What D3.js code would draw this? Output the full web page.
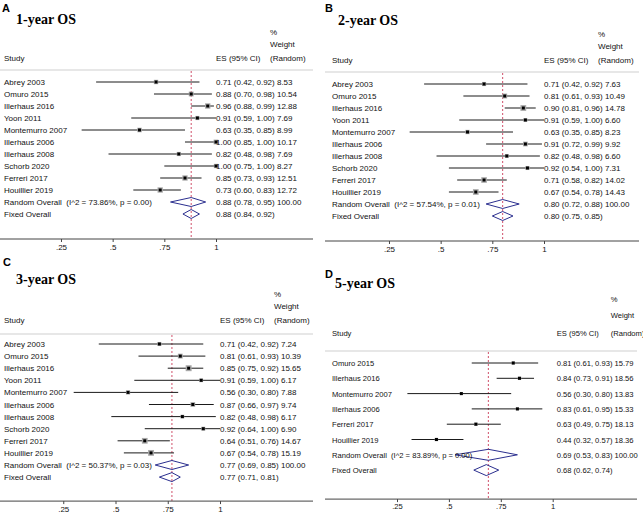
<!DOCTYPE html>
<html>
<head>
<meta charset="utf-8">
<script src="https://cdn.jsdelivr.net/npm/d3@7"></script>
<style>
  body { margin: 0; background: #fff; }
  svg text { font-family: "Liberation Sans", Arial, sans-serif; white-space: pre; }
</style>
</head>
<body>
<div id="chart"></div>
<script>
// ---- data ----
var studies1 = ["Abrey 2003", "Omuro 2015", "Illerhaus 2016", "Yoon 2011", "Montemurro 2007", "Illerhaus 2006",
  "Illerhaus 2008", "Schorb 2020", "Ferreri 2017", "Houillier 2019"];
var es1 = [0.71, 0.88, 0.96, 0.91, 0.63, 1.00, 0.82, 1.00, 0.85, 0.73];
var lo1 = [0.42, 0.70, 0.88, 0.59, 0.35, 0.85, 0.48, 0.75, 0.73, 0.60];
var hi1 = [0.92, 0.98, 0.99, 1.00, 0.85, 1.00, 0.98, 1.00, 0.93, 0.83];
var w1 = [8.53, 10.54, 12.88, 7.69, 8.99, 10.17, 7.69, 8.27, 12.51, 12.72];
var random1 = [0.88, 0.78, 0.95];
var fixed1 = [0.88, 0.84, 0.92];
var het1 = "I^2 = 73.86%, p = 0.00";

var studies2 = studies1;
var es2 = [0.71, 0.81, 0.90, 0.91, 0.63, 0.91, 0.82, 0.92, 0.71, 0.67];
var lo2 = [0.42, 0.61, 0.81, 0.59, 0.35, 0.72, 0.48, 0.54, 0.58, 0.54];
var hi2 = [0.92, 0.93, 0.96, 1.00, 0.85, 0.99, 0.98, 1.00, 0.82, 0.78];
var w2 = [7.63, 10.49, 14.78, 6.60, 8.23, 9.92, 6.60, 7.31, 14.02, 14.43];
var random2 = [0.80, 0.72, 0.88];
var fixed2 = [0.80, 0.75, 0.85];
var het2 = "I^2 = 57.54%, p = 0.01";

var studies3 = studies1;
var es3 = [0.71, 0.81, 0.85, 0.91, 0.56, 0.87, 0.82, 0.92, 0.64, 0.67];
var lo3 = [0.42, 0.61, 0.75, 0.59, 0.30, 0.66, 0.48, 0.64, 0.51, 0.54];
var hi3 = [0.92, 0.93, 0.92, 1.00, 0.80, 0.97, 0.98, 1.00, 0.76, 0.78];
var w3 = [7.24, 10.39, 15.65, 6.17, 7.88, 9.74, 6.17, 6.90, 14.67, 15.19];
var random3 = [0.77, 0.69, 0.85];
var fixed3 = [0.77, 0.71, 0.81];
var het3 = "I^2 = 50.37%, p = 0.03";

var studies5 = ["Omuro 2015", "Illerhaus 2016", "Montemurro 2007", "Illerhaus 2006", "Ferreri 2017", "Houillier 2019"];
var es5 = [0.81, 0.84, 0.56, 0.83, 0.63, 0.44];
var lo5 = [0.61, 0.73, 0.30, 0.61, 0.49, 0.32];
var hi5 = [0.93, 0.91, 0.80, 0.95, 0.75, 0.57];
var w5 = [15.79, 18.56, 13.83, 15.33, 18.13, 18.36];
var random5 = [0.69, 0.53, 0.83];
var fixed5 = [0.68, 0.62, 0.74];
var het5 = "I^2 = 83.89%, p = 0.00";

var tickValues = [0.25, 0.5, 0.75, 1];
var tickLabels = [".25", ".5", ".75", "1"];

// ---- layout of the four panels ----
// letter/title positions are relative to the panel origin
var panels = [
  { letter: "A", title: "1-year OS", studies: studies1, es: es1, lo: lo1, hi: hi1, w: w1,
    random: random1, fixed: fixed1, het: het1,
    ox: 0, oy: 0, letterPos: [2, 12], titlePos: [16, 24],
    x0: 9.3, x1: 216, axisL: 0, axisR: 313, rowStep: 12.0, header: [35, 47, 61], sep: 70, firstRow: 82,
    axisGap: 25, font: 8, box: 1.5, esPad: 0, hh: 4.5 },
  { letter: "B", title: "2-year OS", studies: studies2, es: es2, lo: lo2, hi: hi2, w: w2,
    random: random2, fixed: fixed2, het: het2,
    ox: 328, oy: 2, letterPos: [-3, 10], titlePos: [10, 23],
    x0: 9.3, x1: 216, axisL: -3, axisR: 311, rowStep: 12.0, header: [35, 47, 61], sep: 70, firstRow: 82,
    axisGap: 25, font: 8, box: 1.5, esPad: 0, hh: 4.5 },
  { letter: "C", title: "3-year OS", studies: studies3, es: es3, lo: lo3, hi: hi3, w: w3,
    random: random3, fixed: fixed3, het: het3,
    ox: 0, oy: 262, letterPos: [3, 4], titlePos: [16, 22],
    x0: 11, x1: 220, axisL: 0, axisR: 313, rowStep: 12.1, header: [35, 47, 61], sep: 72, firstRow: 82,
    axisGap: 24, font: 8, box: 1.5, esPad: 0, hh: 4.5 },
  { letter: "D", title: "5-year OS", studies: studies5, es: es5, lo: lo5, hi: hi5, w: w5,
    random: random5, fixed: fixed5, het: het5,
    ox: 328, oy: 259, letterPos: [-3, 19], titlePos: [7, 29],
    x0: 345.1 - 328, x1: 552.7 - 328, axisL: -3, axisR: 309, rowStep: 15.3, header: [43, 59, 77], sep: 92, firstRow: 104,
    axisGap: 29, font: 7.6, box: 0.8, esPad: 4, hh: 5.5 }
];

var svgWidth = 643;
var svgHeight = 515;

var svg = d3.select("#chart")
  .append("svg")
  .attr("width", svgWidth)
  .attr("height", svgHeight);

var fmt = d3.format(".2f");

panels.forEach(function(p) {
  var g = svg.append("g")
    .attr("transform", `translate(${p.ox}, ${p.oy})`);

  var x = d3.scaleLinear().domain([0, 1]).range([p.x0, p.x1]);

  // rows: studies, then random and fixed overall
  var nStud = p.studies.length;
  var y = function(i) { return p.firstRow + i * p.rowStep; };
  var yRandom = y(nStud);
  var yFixed = y(nStud + 1);
  var axisY = yFixed + p.axisGap;

  // panel letter and title
  g.append("text")
    .attr("x", p.letterPos[0]).attr("y", p.letterPos[1])
    .style("font-size", "11px").style("font-weight", "bold")
    .text(p.letter);
  g.append("text")
    .attr("x", p.titlePos[0]).attr("y", p.titlePos[1])
    .style("font-family", "'Liberation Serif', 'Times New Roman', serif")
    .style("font-size", "14px").style("font-weight", "bold")
    .text(p.title);

  // column headers
  var esX = p.x1 + p.esPad;
  var wX = p.x1 + 54 + p.esPad;
  var hdr = g.append("g").style("font-size", p.font + "px").attr("fill", "#111");
  hdr.append("text").attr("x", wX).attr("y", p.header[0]).text("%");
  hdr.append("text").attr("x", wX).attr("y", p.header[1]).text("Weight");
  hdr.append("text").attr("x", wX).attr("y", p.header[2]).text("(Random)");
  hdr.append("text").attr("x", 4).attr("y", p.header[2]).text("Study");
  hdr.append("text").attr("x", esX).attr("y", p.header[2]).text("ES (95% CI)");

  // separator under headers
  g.append("line")
    .attr("x1", p.axisL).attr("x2", p.axisR)
    .attr("y1", p.sep).attr("y2", p.sep)
    .attr("stroke", "#cfcfcf").attr("stroke-width", 1);

  // overall effect reference line
  g.append("line")
    .attr("x1", x(p.random[0])).attr("x2", x(p.random[0]))
    .attr("y1", p.sep + 1).attr("y2", axisY)
    .attr("stroke", "#d0506a").attr("stroke-width", 1)
    .attr("stroke-dasharray", "2,2");

  // study rows
  var rows = g.selectAll("g.row")
    .data(p.studies)
    .enter()
    .append("g")
    .attr("class", "row");

  rows.append("line")
    .attr("x1", (d, i) => x(p.lo[i]))
    .attr("x2", (d, i) => x(p.hi[i]))
    .attr("y1", (d, i) => y(i))
    .attr("y2", (d, i) => y(i))
    .attr("stroke", "#1a1a1a").attr("stroke-width", 1);

  rows.append("rect")
    .attr("x", (d, i) => x(p.es[i]) - Math.sqrt(p.w[i]) * p.box / 2)
    .attr("y", (d, i) => y(i) - Math.sqrt(p.w[i]) * p.box / 2)
    .attr("width", (d, i) => Math.sqrt(p.w[i]) * p.box)
    .attr("height", (d, i) => Math.sqrt(p.w[i]) * p.box)
    .attr("fill", "#a8a8a8");

  rows.append("rect")
    .attr("x", (d, i) => x(p.es[i]) - 1.5)
    .attr("y", (d, i) => y(i) - 1.5)
    .attr("width", 3).attr("height", 3)
    .attr("fill", "#000");

  rows.append("text")
    .attr("x", 4)
    .attr("y", (d, i) => y(i) + 3)
    .style("font-size", p.font + "px").attr("fill", "#111")
    .text(d => d);

  rows.append("text")
    .attr("x", esX)
    .attr("y", (d, i) => y(i) + 3)
    .style("font-size", p.font + "px").attr("fill", "#111")
    .text((d, i) => `${fmt(p.es[i])} (${fmt(p.lo[i])}, ${fmt(p.hi[i])}) ${fmt(p.w[i])}`);

  // pooled diamonds
  var diamond = function(v, yy) {
    return `M${x(v[1])},${yy} L${x(v[0])},${yy - p.hh} L${x(v[2])},${yy} L${x(v[0])},${yy + p.hh} Z`;
  };
  g.append("path")
    .attr("d", diamond(p.random, yRandom))
    .attr("fill", "none").attr("stroke", "#2b2f8f").attr("stroke-width", 1);
  g.append("path")
    .attr("d", diamond(p.fixed, yFixed))
    .attr("fill", "none").attr("stroke", "#2b2f8f").attr("stroke-width", 1);

  g.append("text")
    .attr("x", 4).attr("y", yRandom + 3)
    .style("font-size", p.font + "px").attr("fill", "#111")
    .text(`Random Overall  (${p.het})`);
  g.append("text")
    .attr("x", esX).attr("y", yRandom + 3)
    .style("font-size", p.font + "px").attr("fill", "#111")
    .text(`${fmt(p.random[0])} (${fmt(p.random[1])}, ${fmt(p.random[2])}) 100.00`);
  g.append("text")
    .attr("x", 4).attr("y", yFixed + 3)
    .style("font-size", p.font + "px").attr("fill", "#111")
    .text("Fixed Overall");
  g.append("text")
    .attr("x", esX).attr("y", yFixed + 3)
    .style("font-size", p.font + "px").attr("fill", "#111")
    .text(`${fmt(p.fixed[0])} (${fmt(p.fixed[1])}, ${fmt(p.fixed[2])})`);

  // x axis
  g.append("line")
    .attr("x1", p.axisL).attr("x2", p.axisR)
    .attr("y1", axisY).attr("y2", axisY)
    .attr("stroke", "#444").attr("stroke-width", 1);

  var bottomAxis = d3.axisBottom(x)
    .tickValues(tickValues)
    .tickFormat((d, i) => tickLabels[i])
    .tickSize(3)
    .tickPadding(2);

  var ax = g.append("g")
    .attr("transform", `translate(0, ${axisY})`)
    .call(bottomAxis);
  ax.select(".domain").remove();
  ax.selectAll(".tick line").attr("stroke", "#444");
  ax.selectAll(".tick text")
    .style("font-family", "'Liberation Sans', Arial, sans-serif")
    .style("font-size", p.font + "px").attr("fill", "#111");
});
</script>
</body>
</html>
